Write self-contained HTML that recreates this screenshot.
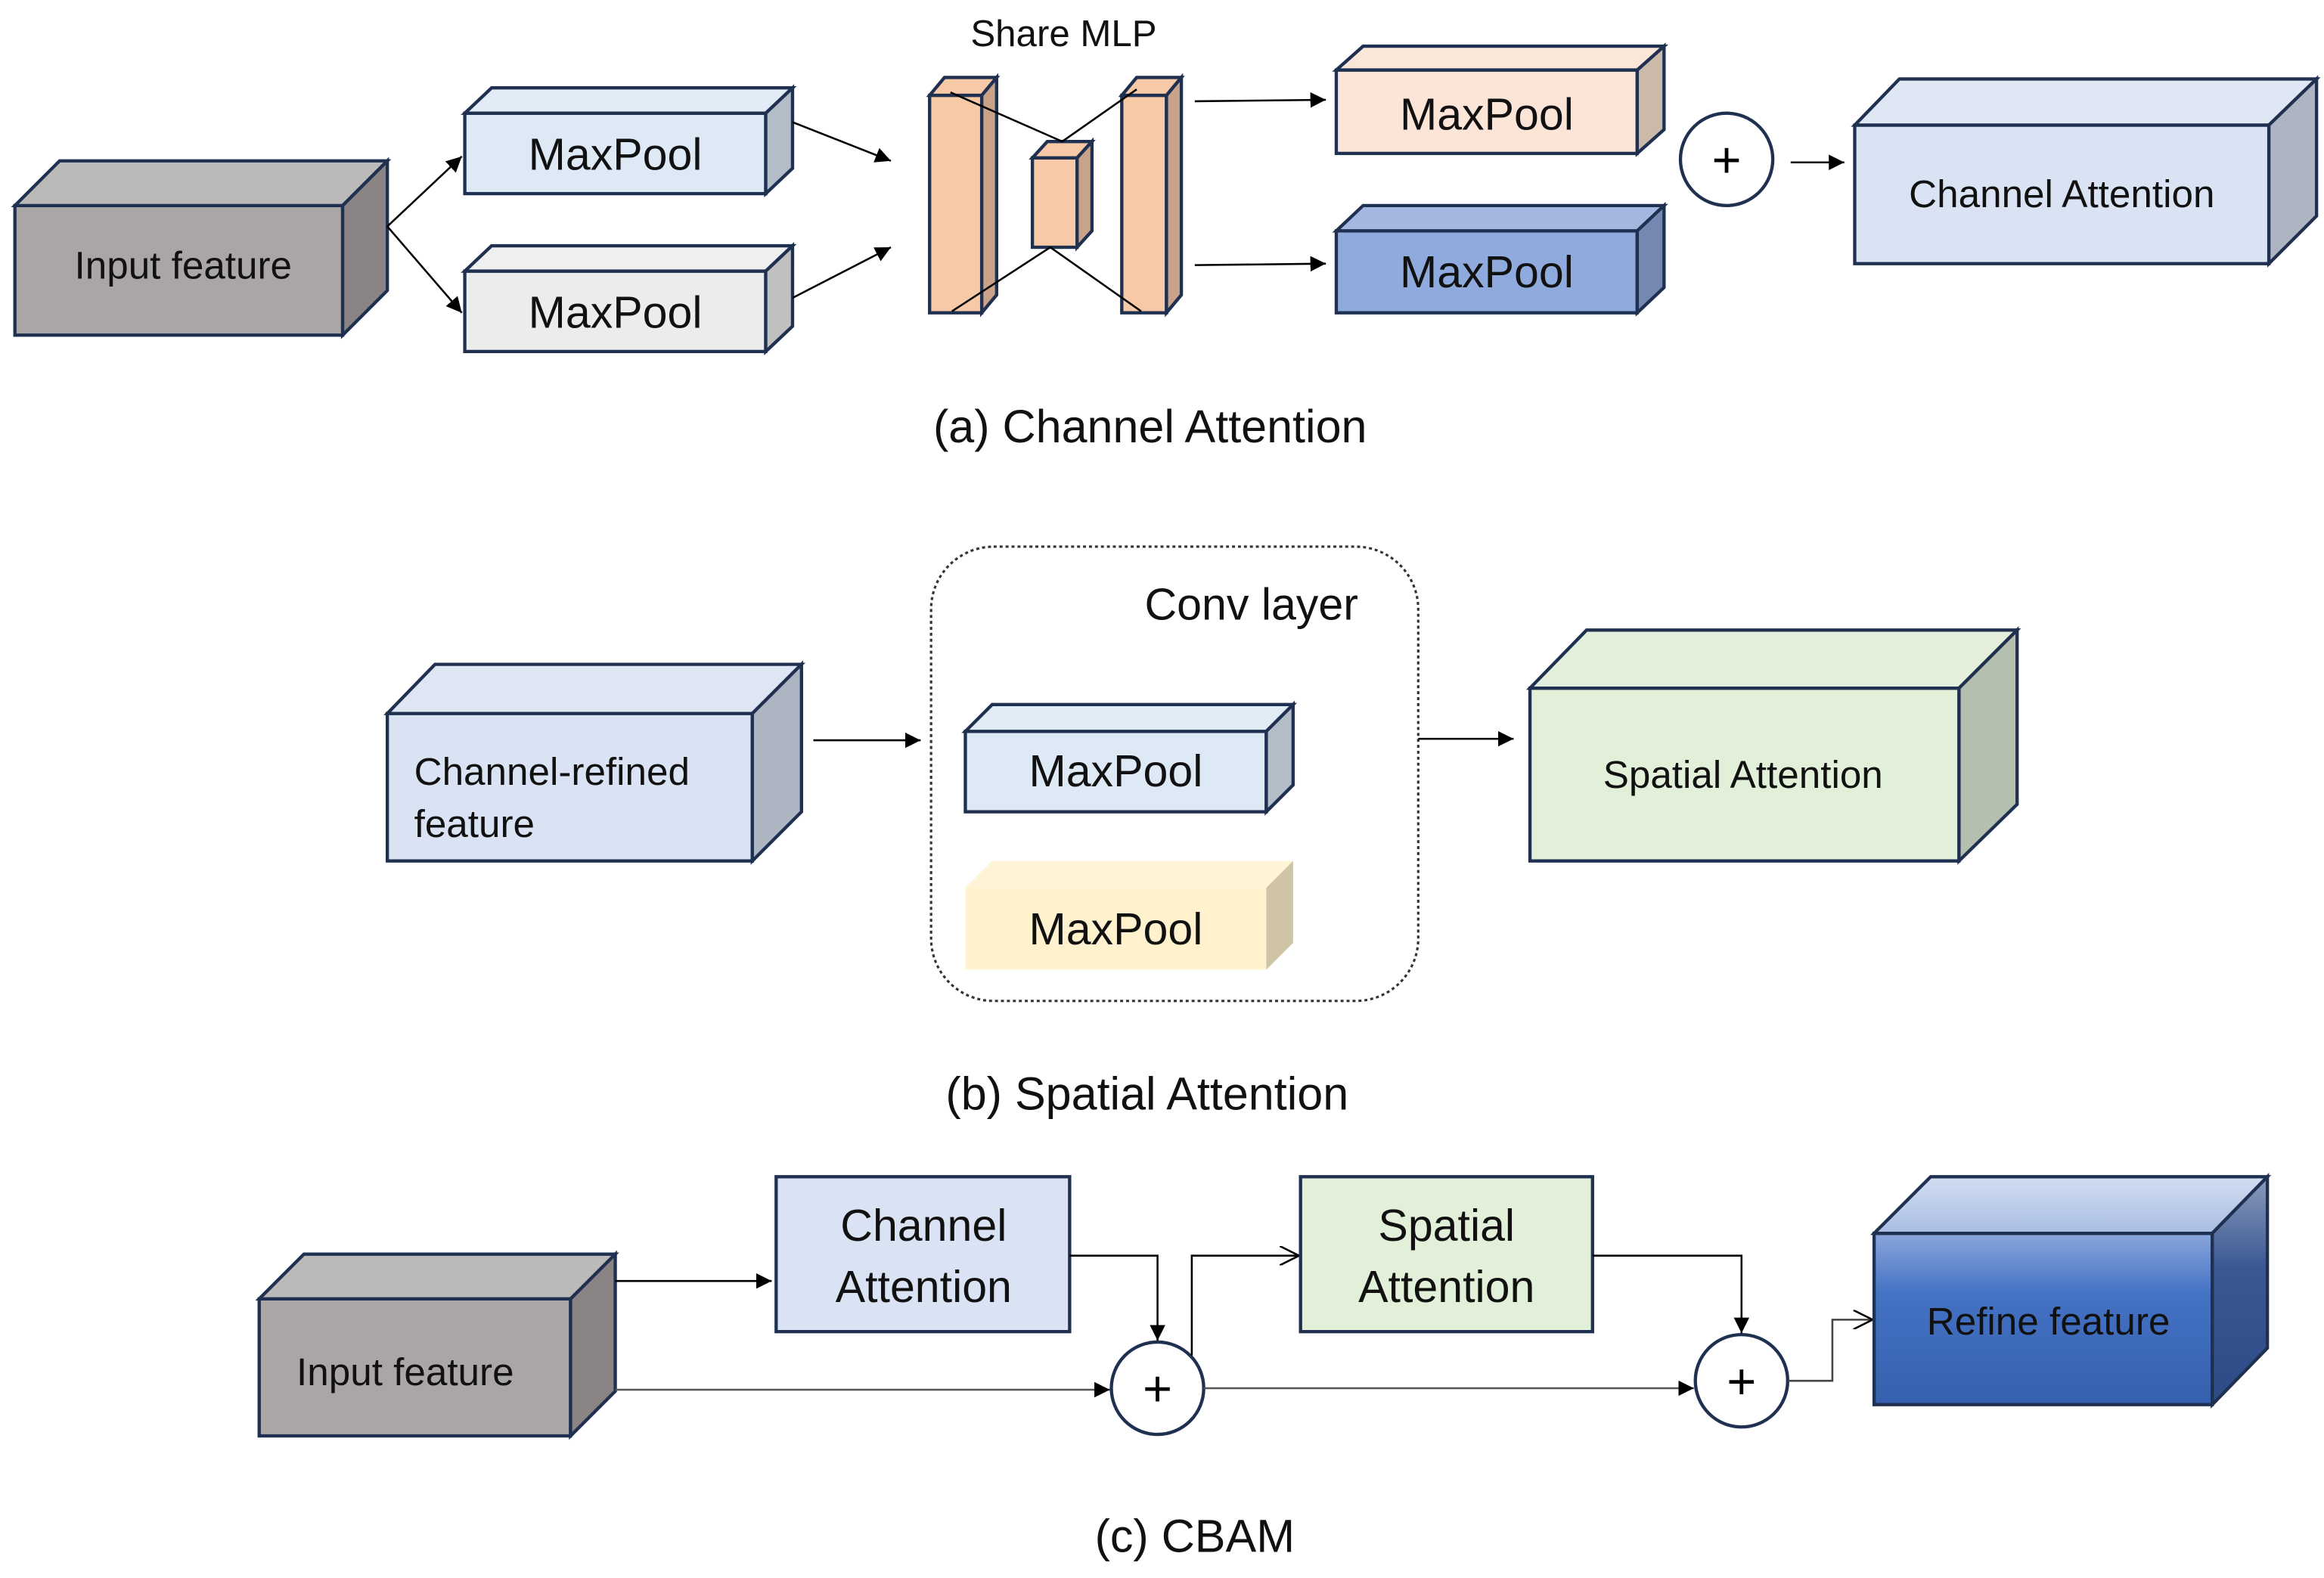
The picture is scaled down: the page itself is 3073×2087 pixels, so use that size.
<!DOCTYPE html>
<html><head><meta charset="utf-8"><style>html,body{margin:0;padding:0;background:#fff}svg{display:block}</style></head>
<body>
<svg xmlns="http://www.w3.org/2000/svg" width="3073" height="2087" viewBox="0 0 1560 1059.4" preserveAspectRatio="none" font-family="Liberation Sans, sans-serif">
<defs>
<marker id="a" viewBox="0 0 10 10" refX="10" refY="5" markerWidth="8" markerHeight="8" orient="auto"><path d="M0,0 L10,5 L0,10 z" fill="#000"/></marker>
<marker id="o" viewBox="0 0 10 10" refX="10" refY="5" markerWidth="10" markerHeight="10" orient="auto"><path d="M0,0 L10,5 L0,10" fill="none" stroke="#000" stroke-width="1"/></marker>
<linearGradient id="gf" x1="0" y1="0" x2="0" y2="1"><stop offset="0" stop-color="#8aa6dc"/><stop offset="0.35" stop-color="#4472c4"/><stop offset="1" stop-color="#3560ad"/></linearGradient>
<linearGradient id="gt" x1="0" y1="0" x2="0" y2="1"><stop offset="0" stop-color="#d2ddf0"/><stop offset="1" stop-color="#a9bde3"/></linearGradient>
<linearGradient id="gs" x1="0" y1="0" x2="0" y2="1"><stop offset="0" stop-color="#8b9bbb"/><stop offset="0.4" stop-color="#3a5894"/><stop offset="1" stop-color="#2c4a85"/></linearGradient>
</defs>
<g stroke="#1f3050" stroke-width="2.2" stroke-linejoin="miter">
<rect x="10" y="138" width="220" height="87" fill="#aaa6a5"/>
<polygon points="10,138 40,108 260,108 230,138" fill="#bcbab9"/>
<polygon points="230,138 260,108 260,195 230,225" fill="#8a8584"/>
<rect x="312" y="76" width="202" height="54" fill="#dde9f5"/>
<polygon points="312,76 330,59 532,59 514,76" fill="#e2ecf7"/>
<polygon points="514,76 532,59 532,113 514,130" fill="#b3bdc8"/>
<rect x="312" y="182" width="202" height="54" fill="#ececec"/>
<polygon points="312,182 330,165 532,165 514,182" fill="#efefef"/>
<polygon points="514,182 532,165 532,219 514,236" fill="#c0c0c0"/>
<rect x="624" y="64" width="35" height="146" fill="#f7c9a7"/>
<polygon points="624,64 634,52 669,52 659,64" fill="#f7c9a7"/>
<polygon points="659,64 669,52 669,198 659,210" fill="#c9a389"/>
<rect x="693" y="106" width="30" height="60" fill="#f7c9a7"/>
<polygon points="693,106 703,95 733,95 723,106" fill="#f7c9a7"/>
<polygon points="723,106 733,95 733,155 723,166" fill="#c9a389"/>
<rect x="753" y="64" width="30" height="146" fill="#f7c9a7"/>
<polygon points="753,64 763,52 793,52 783,64" fill="#f7c9a7"/>
<polygon points="783,64 793,52 793,198 783,210" fill="#c9a389"/>
<rect x="897" y="47" width="202" height="56" fill="#fbe5d6"/>
<polygon points="897,47 915,31 1117,31 1099,47" fill="#fbe7da"/>
<polygon points="1099,47 1117,31 1117,87 1099,103" fill="#cbb9aa"/>
<rect x="897" y="155" width="202" height="55" fill="#8faadc"/>
<polygon points="897,155 915,138 1117,138 1099,155" fill="#a4b7e0"/>
<polygon points="1099,155 1117,138 1117,193 1099,210" fill="#7488b2"/>
<circle cx="1159" cy="107" r="31" fill="#fff"/>
<rect x="1245" y="84" width="278" height="93" fill="#dae3f3"/>
<polygon points="1245,84 1275,53 1555,53 1523,84" fill="#e0e7f4"/>
<polygon points="1523,84 1555,53 1555,145 1523,177" fill="#aeb5c2"/>
<rect x="260" y="479" width="245" height="99" fill="#dae3f3"/>
<polygon points="260,479 292,446 538,446 505,479" fill="#dee6f4"/>
<polygon points="505,479 538,446 538,545 505,578" fill="#aeb5c2"/>
<rect x="648" y="491" width="202" height="54" fill="#dde9f5"/>
<polygon points="648,491 666,473 868,473 850,491" fill="#e2ecf7"/>
<polygon points="850,491 868,473 868,527 850,545" fill="#b3bdc8"/>
<rect x="1027" y="462" width="288" height="116" fill="#e2f0d9"/>
<polygon points="1027,462 1065,423 1354,423 1315,462" fill="#e4efdc"/>
<polygon points="1315,462 1354,423 1354,540 1315,578" fill="#b4bfad"/>
<rect x="174" y="872" width="209" height="92" fill="#aaa6a5"/>
<polygon points="174,872 204,842 413,842 383,872" fill="#bcbab9"/>
<polygon points="383,872 413,842 413,934 383,964" fill="#8a8584"/>
<rect x="521" y="790" width="197" height="104" fill="#dae3f3"/>
<rect x="873" y="790" width="196" height="104" fill="#e2f0d9"/>
<circle cx="777" cy="932" r="31" fill="#fff"/>
<circle cx="1169" cy="927" r="31" fill="#fff"/>
<rect x="1258" y="828" width="227" height="115" fill="url(#gf)"/>
<polygon points="1258,828 1296,790 1522,790 1485,828" fill="url(#gt)"/>
<polygon points="1485,828 1522,790 1522,905 1485,943" fill="url(#gs)"/>
</g>
<rect x="648" y="596" width="202" height="55" fill="#fff2cc"/>
<polygon points="648,596 666,578 868,578 850,596" fill="#fff5d6"/>
<polygon points="850,596 868,578 868,633 850,651" fill="#cfc4a6"/>
<rect x="625" y="367" width="327" height="305" rx="42" fill="none" stroke="#333" stroke-width="1.6" stroke-dasharray="2,2"/>
<g stroke="#000" stroke-width="1.3" fill="none">
<line x1="260" y1="152" x2="310" y2="105" marker-end="url(#a)"/>
<line x1="260" y1="152" x2="310" y2="210" marker-end="url(#a)"/>
<line x1="532" y1="82" x2="598" y2="108" marker-end="url(#a)"/>
<line x1="532" y1="200" x2="598" y2="166" marker-end="url(#a)"/>
<line x1="638" y1="62" x2="713" y2="95"/>
<line x1="713" y1="95" x2="763" y2="60"/>
<line x1="639" y1="209" x2="705" y2="166"/>
<line x1="705" y1="166" x2="766" y2="209"/>
<line x1="802" y1="68" x2="890" y2="67" marker-end="url(#a)"/>
<line x1="802" y1="178" x2="890" y2="177" marker-end="url(#a)"/>
<line x1="1202" y1="109" x2="1238" y2="109" marker-end="url(#a)"/>
<line x1="546" y1="497" x2="618" y2="497" marker-end="url(#a)"/>
<line x1="952" y1="496" x2="1016" y2="496" marker-end="url(#a)"/>
<line x1="413" y1="860" x2="518" y2="860" marker-end="url(#a)"/>
<line x1="413" y1="933" x2="745" y2="933" stroke="#555" marker-end="url(#a)"/>
<polyline points="718,843 777,843 777,900" marker-end="url(#a)"/>
<polyline points="800,910 800,843 872,843" marker-end="url(#o)"/>
<polyline points="1069,843 1169,843 1169,895" marker-end="url(#a)"/>
<line x1="808" y1="932" x2="1137" y2="932" stroke="#555" marker-end="url(#a)"/>
<polyline points="1200,927 1230,927 1230,886 1257,886" stroke="#444" marker-end="url(#o)"/>
</g>
<g font-size="34" text-anchor="middle" fill="#000">
<text x="1159" y="119">+</text>
<text x="777" y="944">+</text>
<text x="1169" y="939">+</text>
</g>
<g fill="#111" text-anchor="middle">
<text x="123" y="187" font-size="26">Input feature</text>
<text x="413" y="114" font-size="30">MaxPool</text>
<text x="413" y="220" font-size="30">MaxPool</text>
<text x="714" y="31" font-size="25">Share MLP</text>
<text x="998" y="87" font-size="30">MaxPool</text>
<text x="998" y="193" font-size="30">MaxPool</text>
<text x="1384" y="139" font-size="26">Channel Attention</text>
<text x="772" y="297" font-size="31">(a) Channel Attention</text>
<text x="840" y="416" font-size="30">Conv layer</text>
<text x="278" y="527" font-size="26" text-anchor="start">Channel-refined</text>
<text x="278" y="562" font-size="26" text-anchor="start">feature</text>
<text x="749" y="528" font-size="30">MaxPool</text>
<text x="749" y="634" font-size="30">MaxPool</text>
<text x="1170" y="529" font-size="26">Spatial Attention</text>
<text x="770" y="745" font-size="31">(b) Spatial Attention</text>
<text x="272" y="930" font-size="26">Input feature</text>
<text x="620" y="833" font-size="30">Channel</text>
<text x="620" y="874" font-size="30">Attention</text>
<text x="971" y="833" font-size="30">Spatial</text>
<text x="971" y="874" font-size="30">Attention</text>
<text x="1375" y="896" font-size="26">Refine feature</text>
<text x="802" y="1042" font-size="31">(c) CBAM</text>
</g>
</svg>
</body></html>
